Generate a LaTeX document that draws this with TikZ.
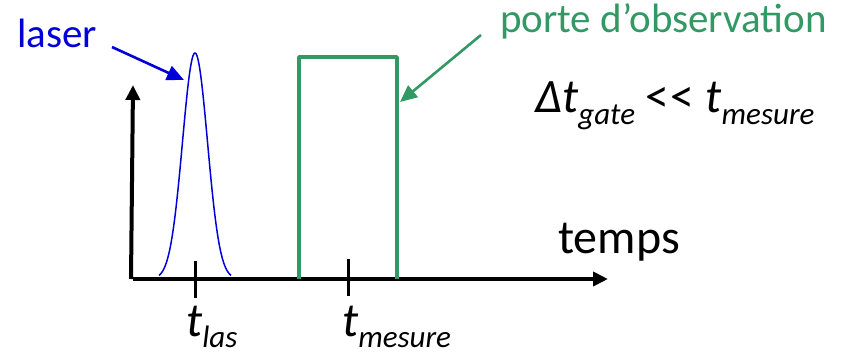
\documentclass[tikz,border=0pt]{standalone}
\usepackage{fontspec}
\setmainfont{Carlito}
\usetikzlibrary{arrows.meta, positioning}
\definecolor{LBl}{RGB}{0,0,215}
\definecolor{GG}{RGB}{50,152,100}
\newcommand{\lowtxt}[1]{\raisebox{-0.24em}{\fontsize{31}{31}\selectfont #1}}

\begin{document}
\begin{tikzpicture}[x=1pt, y=-1pt,
  axis/.style={line width=4pt, -{Triangle[length=15pt, width=14pt]}},
  tick/.style={line width=3pt},
  arr/.style={line width=2.6pt, -{Triangle[length=17pt, width=15pt]}, draw=#1},
  lbl/.style={inner sep=0pt, anchor=base west, font=\fontsize{41}{41}\selectfont},
  big/.style={inner sep=0pt, anchor=base west, font=\fontsize{48}{48}\selectfont}
]
\useasboundingbox (0,0) rectangle (855,361);

% axes
\coordinate (orig) at (133,279);
\coordinate (ytip) at (133,85);
\coordinate (xtip) at (608,279);
\draw[axis] ([xshift=-2pt]orig) -- (ytip);
\draw[axis] (orig) -- (xtip);

% laser pulse
\draw[LBl, line width=1.5pt, domain=-36:36, samples=90]
  plot ({195+\x}, {279-226*exp(-(\x/12.5)^2/2)});
\coordinate (peak) at (184,80);

% gate
\coordinate (g1) at (299,279);
\coordinate (g2) at (397,279);
\draw[GG, line width=3.5pt, line join=round]
  (g1) -- (299,57) -- (397,57) -- (g2);
\coordinate (gside) at (400,102);

% ticks
\coordinate (tl) at (195,279);
\coordinate (tm) at (348,279);
\draw[tick] ([yshift=-19pt]tl) -- ([yshift=18pt]tl);
\draw[tick] ([yshift=-17pt]tm) -- ([yshift=20pt]tm);

% labels
\node[lbl, text=LBl] (laser) at (17,48) {laser};
\node[lbl, text=GG] (porte) at (500,33) {porte d’observation};
\node[big] (temps) at (558,253) {temps};
\node[big] (cond) at (535,113)
  {\itshape Δt\lowtxt{gate} \upshape{<}\kern1pt{<} \itshape t\lowtxt{mesure}};
\node[big] (tlas) at (186,336) {\itshape t\lowtxt{las}};
\node[big] (tmes) at (342,336) {\itshape t\lowtxt{mesure}};

% pointers
\coordinate (la) at (112,47);
\draw[arr=LBl] (la) -- (peak);
\coordinate (pa) at (481,35);
\draw[arr=GG] (pa) -- (gside);
\end{tikzpicture}
\end{document}
